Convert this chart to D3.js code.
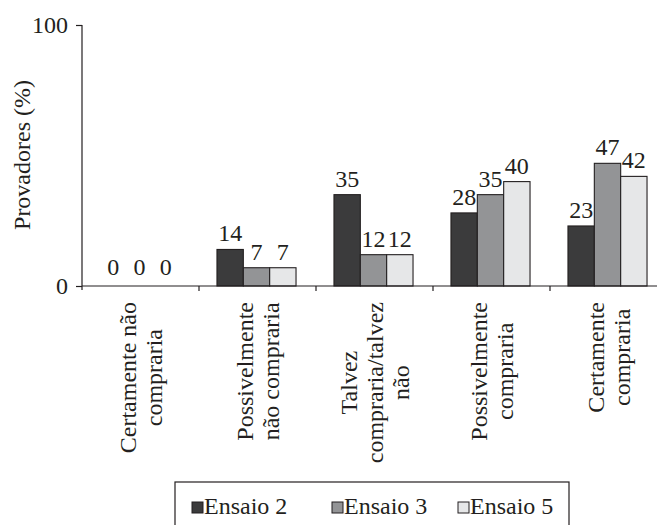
<!DOCTYPE html>
<html>
<head>
<meta charset="utf-8">
<script src="https://cdn.jsdelivr.net/npm/d3@7"></script>
<style>
  body { margin: 0; background: #fff; }
</style>
</head>
<body>
<svg id="chart" width="657" height="525"></svg>
<script>
// categories (multi-line labels) and series
var categories = [
  ["Certamente não", "compraria"],
  ["Possivelmente", "não compraria"],
  ["Talvez", "compraria/talvez", "não"],
  ["Possivelmente", "compraria"],
  ["Certamente", "compraria"]
];
var seriesNames = ["Ensaio 2", "Ensaio 3", "Ensaio 5"];
var ensaio2 = [0, 14, 35, 28, 23];
var ensaio3 = [0, 7, 12, 35, 47];
var ensaio5 = [0, 7, 12, 40, 42];
var yTicks = [0, 100];

var colors = ["#3b3b3c", "#939496", "#e6e7e8"];
var fontSize = 24;
var fontFam = "'Liberation Serif', 'Times New Roman', serif";
var ink = "#231f20";

var svg = d3.select("#chart");
var plotLeft = 82, plotRight = 667, plotTop = 25, plotBottom = 286;

var keys = categories.map(function (d) { return d.join(" "); });
var allSeries = [ensaio2, ensaio3, ensaio5];

var x0 = d3.scaleBand().domain(keys).range([plotLeft, plotRight]).paddingInner(0).paddingOuter(0);
var x1 = d3.scaleBand().domain(seriesNames).range([-1, x0.bandwidth() - 1]).paddingInner(0).paddingOuter(0.72);
var y = d3.scaleLinear().domain([0, 100]).range([plotBottom, plotTop]);

function label(sel) {
  return sel.style("font-family", fontFam).style("font-size", fontSize + "px").attr("fill", ink);
}

// y axis
var yAxis = svg.append("g")
  .attr("transform", "translate(" + plotLeft + ",0)")
  .call(d3.axisLeft(y).tickValues(yTicks).tickSize(6).tickPadding(8).tickFormat(d3.format("d")));
yAxis.attr("font-family", null).attr("font-size", null);
yAxis.select(".domain").remove();
yAxis.selectAll("line").attr("stroke", ink).attr("stroke-width", 1.2);
label(yAxis.selectAll("text"));
svg.append("line")
  .attr("x1", plotLeft).attr("x2", plotLeft)
  .attr("y1", plotTop).attr("y2", plotBottom + 4)
  .attr("stroke", ink).attr("stroke-width", 1.2);

// bars
var groups = svg.selectAll(".grp")
  .data(keys)
  .enter().append("g")
  .attr("class", "grp")
  .attr("transform", function (d) { return "translate(" + x0(d) + ",0)"; });

groups.each(function (k, i) {
  var g = d3.select(this);
  var rows = seriesNames.map(function (s, j) { return { s: s, v: allSeries[j][i], j: j }; });
  g.selectAll("rect")
    .data(rows.filter(function (d) { return d.v > 0; }))
    .enter().append("rect")
    .attr("x", function (d) { return x1(d.s); })
    .attr("y", function (d) { return y(d.v); })
    .attr("width", x1.bandwidth())
    .attr("height", function (d) { return y(0) - y(d.v); })
    .attr("fill", function (d) { return colors[d.j]; })
    .attr("stroke", ink)
    .attr("stroke-width", 1.1);
  g.selectAll(".val")
    .data(rows)
    .enter().append("text")
    .attr("class", "val")
    .attr("x", function (d) { return x1(d.s) + x1.bandwidth() / 2; })
    .attr("y", function (d) { return y(d.v) - (d.v > 0 ? 8 : 11); })
    .attr("text-anchor", "middle")
    .call(label)
    .text(function (d) { return d.v; });
});

// x axis line and ticks
svg.append("line")
  .attr("x1", plotLeft).attr("x2", plotRight)
  .attr("y1", plotBottom).attr("y2", plotBottom)
  .attr("stroke", ink).attr("stroke-width", 1.2);
svg.selectAll(".xtick")
  .data(keys.slice(1))
  .enter().append("line")
  .attr("class", "xtick")
  .attr("x1", function (d) { return x0(d); })
  .attr("x2", function (d) { return x0(d); })
  .attr("y1", plotBottom).attr("y2", plotBottom + 5)
  .attr("stroke", ink).attr("stroke-width", 1.2);

// category labels, rotated, block top-aligned, lines centred
var lineH = 26;
categories.forEach(function (lines, i) {
  var cx = x0(keys[i]) + x0.bandwidth() / 2;
  var g = svg.append("g");
  var texts = lines.map(function (t) {
    return g.append("text").call(label).attr("text-anchor", "middle").text(t);
  });
  var maxW = d3.max(texts, function (t) { return t.node().getComputedTextLength(); });
  var cy = plotBottom + 16 + maxW / 2;
  var n = lines.length;
  texts.forEach(function (t, j) {
    var bx = cx + (j - (n - 1) / 2) * lineH + 8;
    t.attr("transform", "translate(" + bx + "," + cy + ") rotate(-90)");
  });
});

// y title
svg.append("text")
  .attr("transform", "translate(30,155) rotate(-90)")
  .attr("text-anchor", "middle")
  .call(label)
  .text("Provadores (%)");

// legend
var legend = svg.append("g");
legend.append("rect")
  .attr("x", 175).attr("y", 482)
  .attr("width", 394).attr("height", 60)
  .attr("fill", "none").attr("stroke", ink).attr("stroke-width", 1.2);
var legX = [192, 332, 458];
seriesNames.forEach(function (s, j) {
  legend.append("rect")
    .attr("x", legX[j]).attr("y", 502)
    .attr("width", 11).attr("height", 11)
    .attr("fill", colors[j]).attr("stroke", ink).attr("stroke-width", 1);
  legend.append("text")
    .attr("x", legX[j] + 12).attr("y", 514)
    .call(label)
    .text(s);
});
</script>
</body>
</html>
